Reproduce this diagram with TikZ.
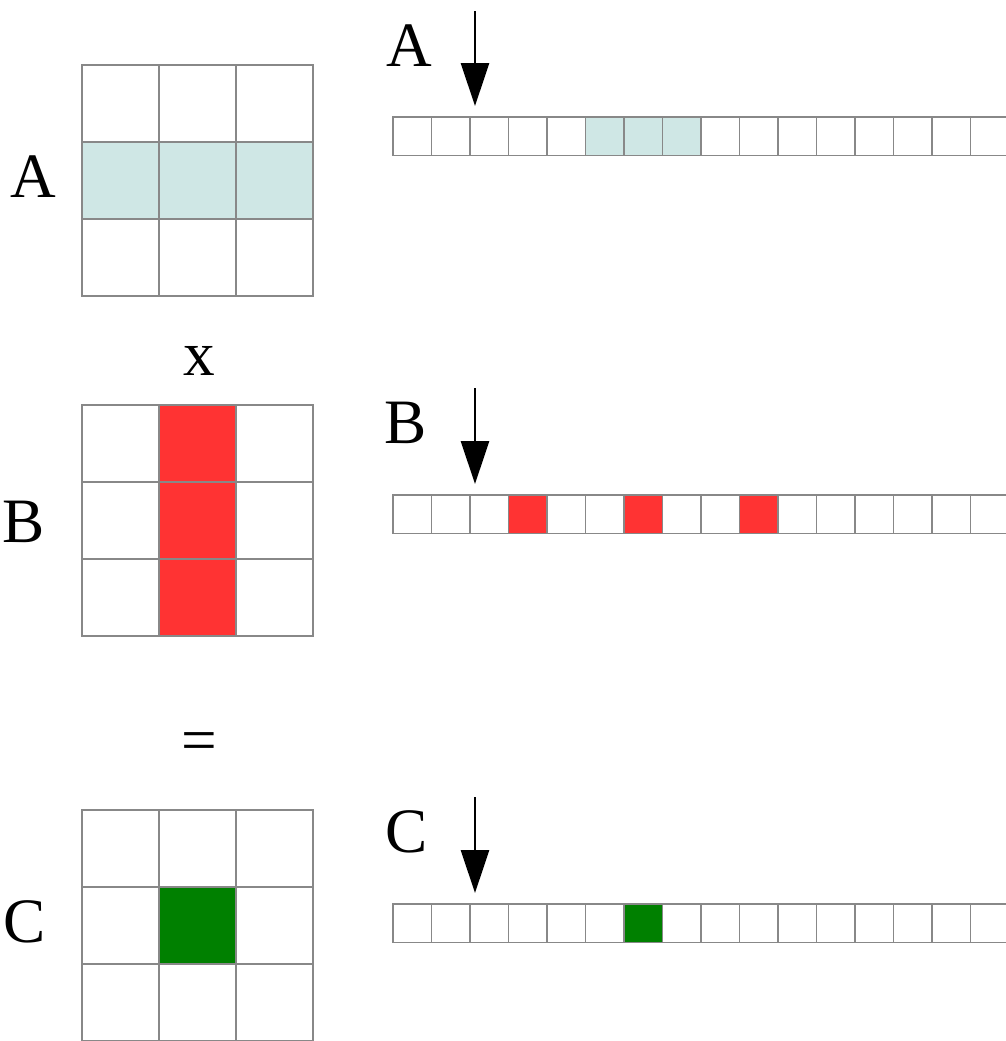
\documentclass[tikz,border=0pt]{standalone}
\usepackage{fontspec}
\setmainfont{Liberation Serif}
\usetikzlibrary{arrows.meta}

\definecolor{gridgray}{HTML}{888888}
\definecolor{rowteal}{HTML}{CFE7E5}
\definecolor{colred}{HTML}{FF3333}
\definecolor{resgreen}{HTML}{008000}

\begin{document}
\begin{tikzpicture}[x=0.02cm,y=-0.02cm,every node/.style={outer sep=0pt,inner sep=0pt}]
\tikzstyle{bigcell}=[draw=gridgray,line width=1.1pt,minimum size=1.54cm]
\tikzstyle{smallcell}=[draw=gridgray,line width=1.1pt,minimum size=0.77cm]
\tikzstyle{letter}=[font=\fontsize{36}{40}\selectfont,anchor=base]
\tikzstyle{pointer}=[line width=1.6pt,-{Triangle[length=0.86cm,width=0.56cm]}]
% highlighted cells
\tikzset{A-10/.style={fill=rowteal},A-11/.style={fill=rowteal},A-12/.style={fill=rowteal},
  B-01/.style={fill=colred},B-11/.style={fill=colred},B-21/.style={fill=colred},
  C-11/.style={fill=resgreen},
  A-s5/.style={fill=rowteal},A-s6/.style={fill=rowteal},A-s7/.style={fill=rowteal},
  B-s3/.style={fill=colred},B-s6/.style={fill=colred},B-s9/.style={fill=colred},
  C-s6/.style={fill=resgreen}}

\useasboundingbox (0,0) rectangle (1006,1041);
\clip (0,0) rectangle (1006,1041);

\foreach \m/\gy/\sy/\ay in {A/65/117/11, B/405/495/388, C/810/904/797} {
  % 3x3 matrix
  \foreach \r in {0,1,2}
    \foreach \c in {0,1,2}
      \node (\m-\r\c) [bigcell,\m-\r\c/.try] at (120.5+77*\c, \gy+38.5+77*\r) {};
  % row-major storage
  \foreach \i in {0,...,15}
    \node (\m-s\i) [smallcell,\m-s\i/.try] at (412.25+38.5*\i, \sy+19.25) {};
  \coordinate (\m-top) at (475,\ay);
  \coordinate (\m-tip) at (475,\sy-11);
  \draw [pointer] (\m-top) -- (\m-tip);
}

\node (nameA) [letter] at (33.5,197) {A};
\node (nameB) [letter] at (23.5,542) {B};
\node (nameC) [letter] at (25,942) {C};
\node (stripA) [letter] at (409.5,66) {A};
\node (stripB) [letter] at (406,443) {B};
\node (stripC) [letter] at (407,852) {C};
\node (times) [letter] at (199,375) {x};
\node (equals) [font=\fontsize{36}{40}\selectfont] at (199.5,747.5) {=};
\end{tikzpicture}
\end{document}
